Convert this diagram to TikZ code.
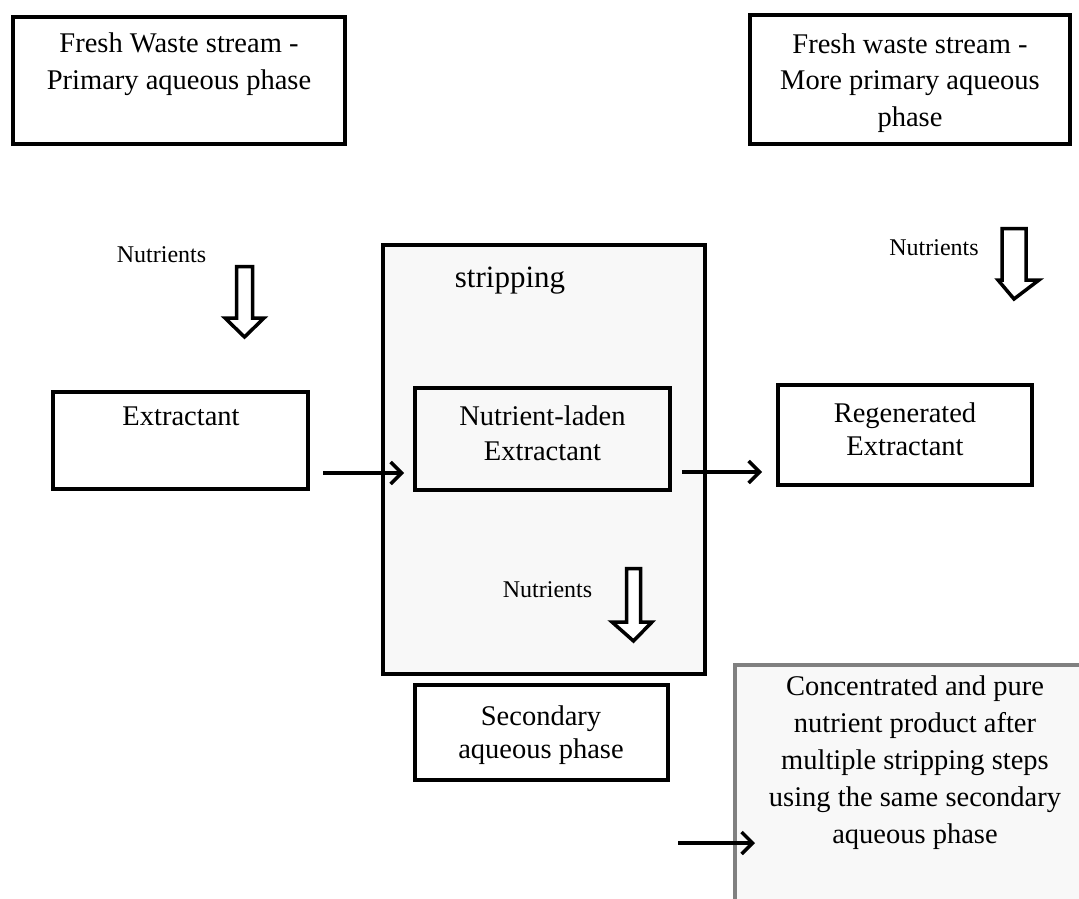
\documentclass[tikz,border=0pt]{standalone}
\usepackage{fontspec}
\setmainfont{Liberation Serif}
\usetikzlibrary{arrows.meta}
\definecolor{panel}{HTML}{F8F8F8}
\definecolor{edgegray}{HTML}{808080}
\tikzset{
  box/.style={draw=black, line width=4pt, inner sep=0pt, fill=white},
  txt/.style={inner sep=0pt, anchor=north, align=center, font=\fontsize{28.5}{37}\selectfont},
  small/.style={inner sep=0pt, anchor=base, font=\fontsize{24}{28}\selectfont},
  flow/.style={line width=3.5pt, -{Straight Barb[length=11pt,width=22pt]}},
  blockarrow/.style={draw=black, line width=3.5pt, fill=white, line join=miter}
}
\newcommand{\fst}{\rule{0pt}{20pt}}
\begin{document}
\begin{tikzpicture}[x=1pt,y=-1pt]
\clip (0,0) rectangle (1079,899);
\useasboundingbox (0,0) rectangle (1079,899);
\fill[white] (0,0) rectangle (1079,899);

% boxes
\node[box, minimum width=332pt, minimum height=127pt] (box1) at (179,80.5) {};
\node[box, minimum width=320pt, minimum height=129pt] (box2) at (910,79.5) {};
\node[box, minimum width=255pt, minimum height=97pt] (ext) at (180.5,440.5) {};
\node[box, fill=panel, minimum width=322pt, minimum height=429pt] (strip) at (544,459.5) {};
\node[box, fill=panel, minimum width=255pt, minimum height=102pt] (nl) at (542.5,439) {};
\node[box, minimum width=254pt, minimum height=100pt] (reg) at (905,435) {};
\node[box, minimum width=253pt, minimum height=95pt] (sec) at (541.5,732.5) {};
\node[box, draw=edgegray, fill=panel, minimum width=380pt, minimum height=270pt] (fin) at (925,800) {};

% texts
\node[txt] (t1) at (179,32) {\fst Fresh Waste stream -\\Primary aqueous phase};
\node[txt, font=\fontsize{28.5}{36.5}\selectfont] (t2) at (910,33) {\fst Fresh waste stream -\\More primary aqueous\\phase};
\node[txt] (t3) at (181,405) {\fst Extractant};
\node[txt, font=\fontsize{31}{37}\selectfont] (t4) at (510,265) {\rule{0pt}{22pt}stripping};
\node[txt, font=\fontsize{28.5}{35}\selectfont] (t5) at (542.5,405) {\fst Nutrient-laden\\Extractant};
\node[txt, font=\fontsize{28.5}{33}\selectfont] (t6) at (905,402) {\fst Regenerated\\Extractant};
\node[txt, font=\fontsize{28.5}{33}\selectfont] (t7) at (541,705) {\fst Secondary\\aqueous phase};
\node[txt] (t8) at (915,675) {\fst Concentrated and pure\\nutrient product after\\multiple stripping steps\\using the same secondary\\aqueous phase};

% nutrients labels
\node[small] (n1) at (161.5,262) {Nutrients};
\node[small] (n2) at (547.5,597) {Nutrients};
\node[small] (n3) at (934,255) {Nutrients};

% block arrows
\draw[blockarrow] (236.5,266.5) -- (252.5,266.5) -- (252.5,318) -- (264,318) -- (244.5,337) -- (225,318) -- (236.5,318) -- cycle;
\draw[blockarrow] (626.5,568.5) -- (640.5,568.5) -- (640.5,622) -- (652,622) -- (633.5,641) -- (612,622) -- (626.5,622) -- cycle;
\draw[blockarrow] (1002,228.5) -- (1026,228.5) -- (1026,280) -- (1039,280) -- (1014,299) -- (998,280) -- (1002,280) -- cycle;

% flow arrows
\coordinate (a1s) at (323,473);
\coordinate (a2s) at (682,472);
\coordinate (a3s) at (678,843);
\draw[flow, shorten >=9pt] (a1s) -- (a1s -| nl.west);
\draw[flow, shorten >=14pt] (a2s) -- (a2s -| reg.west);
\draw[flow] (a3s) -- ([xshift=22pt]a3s -| fin.west);
\end{tikzpicture}
\end{document}
